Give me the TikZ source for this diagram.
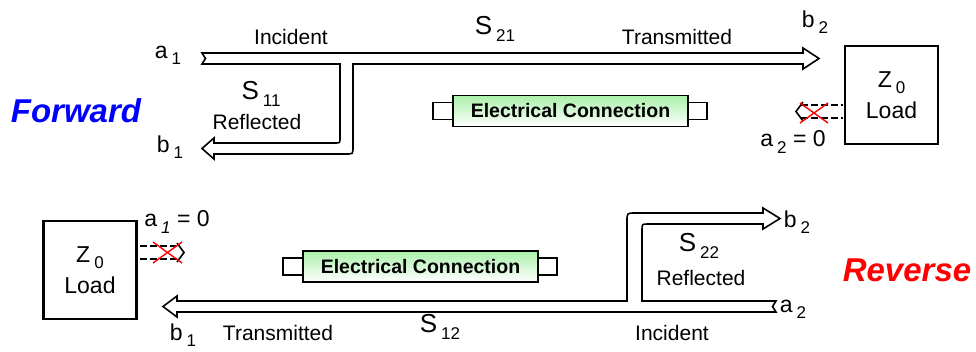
\documentclass[tikz,border=0pt]{standalone}
\usepackage{fontspec}
\setmainfont{Liberation Sans}
\newcommand{\lsub}[1]{\kern4pt\raisebox{-0.5ex}{\fontsize{17}{17}\selectfont #1}}
\definecolor{conngreen}{RGB}{170,240,170}
\begin{document}
\begin{tikzpicture}[x=1pt,y=-1pt,
  lbl/.style={inner sep=0pt, font=\fontsize{21}{23}\selectfont},
  port/.style={inner sep=0pt, font=\fontsize{23}{25}\selectfont},
  sname/.style={inner sep=0pt, font=\fontsize{26}{28}\selectfont},
  dirlbl/.style={inner sep=0pt, font=\fontsize{33}{36}\selectfont\bfseries\itshape},
  flow/.style={draw=black, line width=1.6pt, fill=white, line join=miter},
  loadbox/.style={draw, line width=2.8pt, minimum width=93pt, minimum height=98pt, inner sep=0pt, align=center, font=\fontsize{23}{31}\selectfont},
  conn/.style={draw, line width=1.6pt, top color=conngreen, bottom color=white, minimum width=235pt, minimum height=31pt, inner sep=0pt, font=\fontsize{19.5}{20}\selectfont\bfseries},
  conncap/.style={draw, line width=1.6pt, fill=white, minimum width=22pt, minimum height=17pt, inner sep=0pt},
  cross/.style={draw=red, line width=1.4pt},
  ghost/.style={line width=1.6pt, dash pattern=on 7pt off 3pt},
  ghosttip/.style={line width=1.6pt}
]
\useasboundingbox (0,0) rectangle (976,351);

% ---------- Forward ----------
\draw[flow] (202,53) -- (803,53) -- (803,48) -- (819,58.5) -- (803,69) -- (803,64)
  -- (353,64) -- (353,147) .. controls (353,154) .. (346,154) -- (214,154)
  -- (214,159) -- (202,148.5) -- (214,138) -- (214,143) -- (335,143)
  .. controls (340,143) .. (340,138) -- (340,64) -- (202,64) -- (205.5,58.5) -- cycle;

\node[conncap] (c1l) at (444,111) {};
\node[conncap] (c1r) at (696,111) {};
\node[conn] (c1) at (570.5,111) {Electrical Connection};

\node[loadbox] (load2) at (891.5,95) {Z\lsub{0}\\Load};

\draw[ghost] (801,105) -- (843,105);
\draw[ghost] (801,118) -- (843,118);
\draw[ghosttip] (803,102) -- (796,111.5) -- (803,121);
\draw[cross] (800,103) -- (828,123);
\draw[cross] (800,123) -- (828,103);

\node[port] (a1) at (168,55) {a\lsub{1}};
\node[lbl] (inc1) at (291,37) {Incident};
\node[sname] (s21) at (495,29) {S\lsub{21}};
\node[lbl] (tr1) at (677,37) {Transmitted};
\node[port] (b2f) at (815,22) {b\lsub{2}};
\node[sname] (s11) at (261,94) {S\lsub{11}};
\node[lbl] (rf1) at (257,122) {Reflected};
\node[port] (b1f) at (170,147) {b\lsub{1}};
\node[dirlbl, text=blue] (fwd) at (76,111) {Forward};
\node[port] (a2z) at (793,142) {a\lsub{2} = 0};

% ---------- Reverse ----------
\draw[flow] (776,301) -- (642,301) -- (642,230) .. controls (642,224) .. (648,224)
  -- (763,224) -- (763,229) -- (780,218.5) -- (763,208) -- (763,213) -- (635,213)
  .. controls (627,213) .. (627,221) -- (627,301) -- (177,301) -- (177,296)
  -- (163,306.5) -- (177,317) -- (177,312) -- (776,312) -- (772.5,306.5) -- cycle;

\node[conncap] (c2l) at (294,266.5) {};
\node[conncap] (c2r) at (546,266.5) {};
\node[conn] (c2) at (420.5,266.5) {Electrical Connection};

\node[loadbox] (load1) at (90,270) {Z\lsub{0}\\Load};

\draw[ghost] (140,246) -- (178,246);
\draw[ghost] (140,259) -- (178,259);
\draw[ghosttip] (177,243) -- (184,252.5) -- (177,262);
\draw[cross] (153,242) -- (182,263);
\draw[cross] (153,263) -- (182,242);

\node[port] (a1z) at (177,222) {a\lsub{\itshape 1} = 0};
\node[port] (b2r) at (797,222) {b\lsub{2}};
\node[sname] (s22) at (699,246) {S\lsub{22}};
\node[lbl] (rf2) at (701,278) {Reflected};
\node[port] (a2) at (793,309) {a\lsub{2}};
\node[lbl] (inc2) at (672,333) {Incident};
\node[dirlbl, text=red] (rev) at (907,270) {Reverse};
\node[sname] (s12) at (440,327) {S\lsub{12}};
\node[lbl] (tr2) at (278,333) {Transmitted};
\node[port] (b1r) at (183,335) {b\lsub{1}};
\end{tikzpicture}
\end{document}
